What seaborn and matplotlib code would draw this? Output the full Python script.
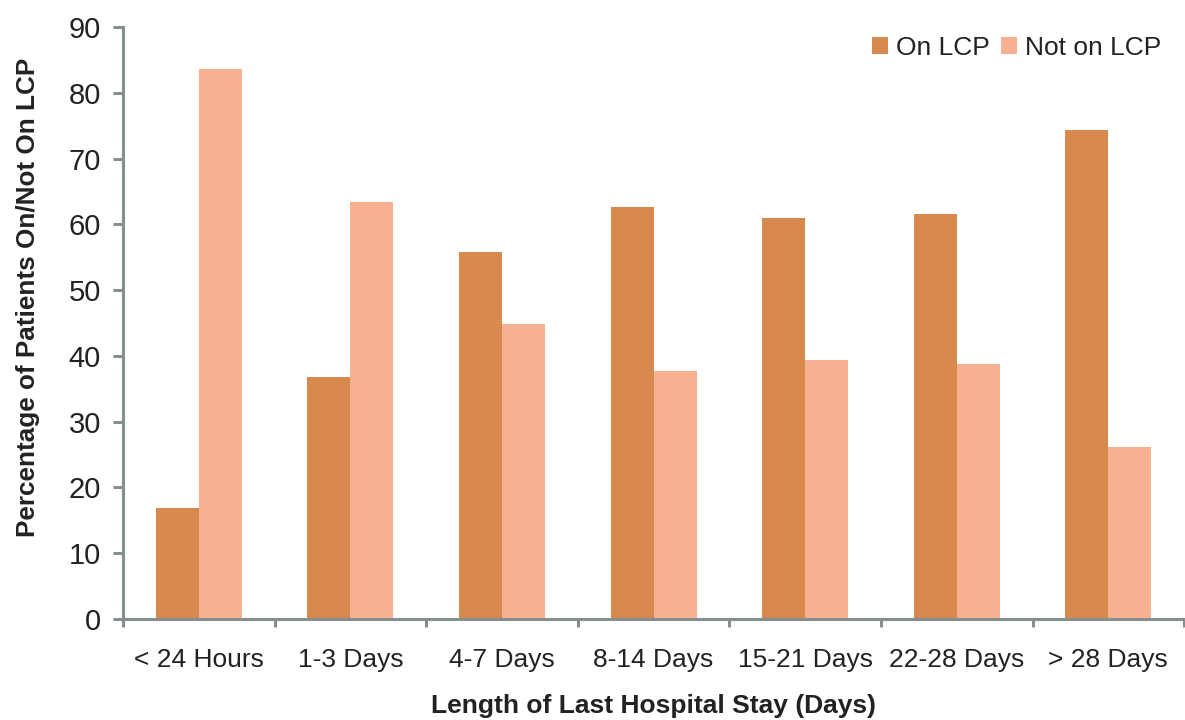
import matplotlib
matplotlib.use("Agg")
import matplotlib.pyplot as plt
import seaborn as sns
import pandas as pd
from matplotlib.ticker import FixedLocator, MultipleLocator

categories = ["< 24 Hours", "1-3 Days", "4-7 Days", "8-14 Days",
              "15-21 Days", "22-28 Days", "> 28 Days"]
on_lcp = [16.8, 36.8, 55.8, 62.6, 61.0, 61.5, 74.3]
not_on_lcp = [83.6, 63.4, 44.8, 37.7, 39.4, 38.8, 26.2]
series_names = ["On LCP", "Not on LCP"]
colors = ["#D8894E", "#F7B191"]

df = pd.DataFrame({
    "category": categories * 2,
    "value": on_lcp + not_on_lcp,
    "series": [series_names[0]] * len(categories) + [series_names[1]] * len(categories),
})

sns.set_theme(style="white")
plt.rcParams["font.family"] = ["Liberation Sans", "DejaVu Sans"]

fig = plt.figure(figsize=(11.85, 7.2), dpi=100)
ax = fig.add_axes([0.1038, 0.1403, 0.8955, 0.8222])

sns.barplot(data=df, x="category", y="value", hue="series", order=categories,
            hue_order=series_names, palette=colors, width=0.567, gap=0,
            saturation=1, linewidth=0, ax=ax, legend=True)

ax.set_ylim(0, 90)
ax.set_xlim(-0.5, 6.5)
ax.yaxis.set_major_locator(MultipleLocator(10))

spine_color = "#868E90"
for side in ["top", "right"]:
    ax.spines[side].set_visible(False)
for side in ["left", "bottom"]:
    ax.spines[side].set_color(spine_color)
    ax.spines[side].set_linewidth(2.2)

# category boundaries get the tick marks, labels sit centered without marks
ax.xaxis.set_minor_locator(FixedLocator([i - 0.5 for i in range(len(categories) + 1)]))
ax.tick_params(axis="x", which="minor", bottom=True, length=6, width=2.2,
               color=spine_color, direction="out")
ax.tick_params(axis="x", which="major", bottom=True, length=0, pad=21,
               labelsize=19, labelcolor="#222222")
ax.tick_params(axis="y", which="major", left=True, length=7, width=2.2,
               color=spine_color, direction="out", pad=9,
               labelsize=21, labelcolor="#222222")

ax.set_xlabel("Length of Last Hospital Stay (Days)", fontsize=19,
              fontweight="bold", color="#222222", labelpad=16)
ax.set_ylabel("Percentage of Patients On/Not On LCP", fontsize=18.8,
              fontweight="bold", color="#222222")
ax.yaxis.set_label_coords(-0.078, 0.544)

ax.legend(loc="upper right", bbox_to_anchor=(1.0, 0.983),
          bbox_transform=fig.transFigure, ncol=2, frameon=False,
          fontsize=19, handlelength=0.6, handleheight=0.6,
          handletextpad=0.3, columnspacing=0.45, labelcolor="#222222")

fig.savefig("out.png", dpi=100)
